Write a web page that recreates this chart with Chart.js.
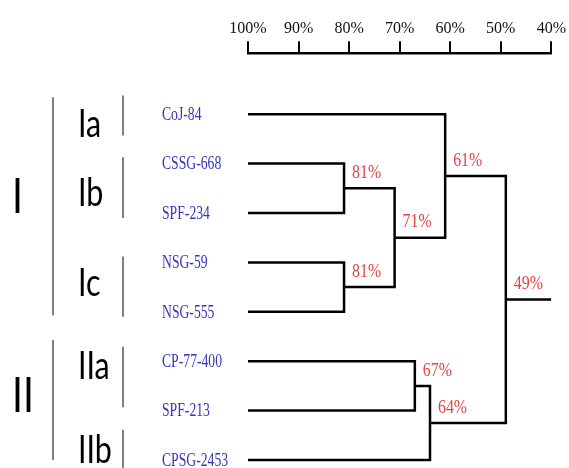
<!DOCTYPE html>
<html>
<head>
<meta charset="utf-8">
<script src="https://cdn.jsdelivr.net/npm/chart.js@4/dist/chart.umd.min.js"></script>
<style>
  html, body { margin: 0; padding: 0; background: #fff; }
  #wrap { width: 569px; height: 468px; }
</style>
</head>
<body>
<div id="wrap"><canvas id="dendro"></canvas></div>
<script>
// hojas del dendrograma (de arriba hacia abajo)
const leafNames = ['CoJ-84', 'CSSG-668', 'SPF-234', 'NSG-59', 'NSG-555', 'CP-77-400', 'SPF-213', 'CPSG-2453'];

// uniones: indices de nodos (0-7 hojas, 8+ nodos internos en orden)
const mergePairs = [[1, 2], [3, 4], [8, 9], [0, 10], [5, 6], [12, 7], [11, 13]];
const mergeSimilarity = [81, 81, 71, 61, 67, 64, 49];
const rootEnd = 40;

// escala superior
const axisTicks = [100, 90, 80, 70, 60, 50, 40];

// grupos a la izquierda (en unidades de hoja)
const groupNames = ['I', 'II'];
const groupSpans = [[-0.34, 4.07], [4.57, 7.0]];
const groupLabelAt = [1.65, 5.67];
const subNames = ['Ia', 'Ib', 'Ic', 'IIa', 'IIb'];
const subSpans = [[-0.38, 0.43], [0.87, 2.1], [2.88, 4.1], [4.71, 5.93], [6.39, 7.2]];
const subLabelAt = [0.16, 1.56, 3.38, 5.06, 6.76];

// posiciones de nodos
const nodes = leafNames.map((n, i) => ({ x: 100, y: i }));
mergePairs.forEach((p, i) => {
    nodes.push({ x: mergeSimilarity[i], y: (nodes[p[0]].y + nodes[p[1]].y) / 2 });
});

// cada union se dibuja como un corchete
const datasets = mergePairs.map((p, i) => {
    const a = nodes[p[0]], b = nodes[p[1]], m = mergeSimilarity[i];
    return {
        data: [{ x: a.x, y: a.y }, { x: m, y: a.y }, { x: m, y: b.y }, { x: b.x, y: b.y }]
    };
});
const root = nodes[nodes.length - 1];
datasets.push({ data: [{ x: root.x, y: root.y }, { x: rootEnd, y: root.y }] });
datasets.forEach(d => {
    d.showLine = true;
    d.borderColor = '#000';
    d.borderWidth = 2.5;
    d.pointRadius = 0;
    d.tension = 0;
    d.fill = false;
});

function squeezedText(ctx, txt, x, y, sx, align) {
    ctx.save();
    ctx.translate(x, y);
    ctx.scale(sx, 1);
    ctx.textAlign = align || 'left';
    ctx.fillText(txt, 0, 0);
    ctx.restore();
}

const labelsPlugin = {
    id: 'labels',
    afterDraw(chart) {
        const ctx = chart.ctx;
        const xs = chart.scales.x, ys = chart.scales.y;
        ctx.save();
        ctx.textBaseline = 'middle';

        // nombres de las hojas
        ctx.fillStyle = '#3434b8';
        ctx.font = '18px "Liberation Serif"';
        leafNames.forEach((n, i) => {
            squeezedText(ctx, n, 162, ys.getPixelForValue(i) + 1, 0.76);
        });

        // porcentajes de union
        ctx.fillStyle = '#e04444';
        ctx.font = '18px "Liberation Serif"';
        mergeSimilarity.forEach((m, i) => {
            const nd = nodes[leafNames.length + i];
            squeezedText(ctx, m + '%', xs.getPixelForValue(m) + 8, ys.getPixelForValue(nd.y) - 15, 0.88);
        });

        // grupos
        ctx.strokeStyle = '#555';
        ctx.lineWidth = 1.5;
        ctx.fillStyle = '#000';
        ctx.font = '49px Lato';
        groupNames.forEach((g, i) => {
            ctx.beginPath();
            ctx.moveTo(53, ys.getPixelForValue(groupSpans[i][0]));
            ctx.lineTo(53, ys.getPixelForValue(groupSpans[i][1]));
            ctx.stroke();
            squeezedText(ctx, g, 12, ys.getPixelForValue(groupLabelAt[i]) + 2, 0.8);
        });
        ctx.font = '39px Lato';
        subNames.forEach((g, i) => {
            ctx.beginPath();
            ctx.moveTo(123, ys.getPixelForValue(subSpans[i][0]));
            ctx.lineTo(123, ys.getPixelForValue(subSpans[i][1]));
            ctx.stroke();
            squeezedText(ctx, g, 78, ys.getPixelForValue(subLabelAt[i]) + 2, 0.78);
        });
        ctx.restore();
    }
};

new Chart(document.getElementById('dendro').getContext('2d'), {
    type: 'scatter',
    data: { datasets: datasets },
    options: {
        responsive: true,
        maintainAspectRatio: false,
        animation: false,
        layout: { padding: { left: 248, right: 16, top: 16, bottom: 0 } },
        plugins: { legend: { display: false }, tooltip: { enabled: false } },
        scales: {
            x: {
                type: 'linear',
                position: 'top',
                min: 40,
                max: 100,
                reverse: true,
                afterBuildTicks: axis => { axis.ticks = axisTicks.map(v => ({ value: v })); },
                ticks: {
                    callback: v => v + '%',
                    color: '#111',
                    font: { family: 'Liberation Serif', size: 16 },
                    padding: 3,
                    maxRotation: 0
                },
                grid: { drawOnChartArea: false, tickLength: 12, color: '#000', lineWidth: 2 },
                border: { display: true, color: '#000', width: 2.5 }
            },
            y: {
                type: 'linear',
                display: false,
                reverse: true,
                min: -1.234,
                max: 7.162
            }
        }
    },
    plugins: [labelsPlugin]
});
</script>
</body>
</html>
